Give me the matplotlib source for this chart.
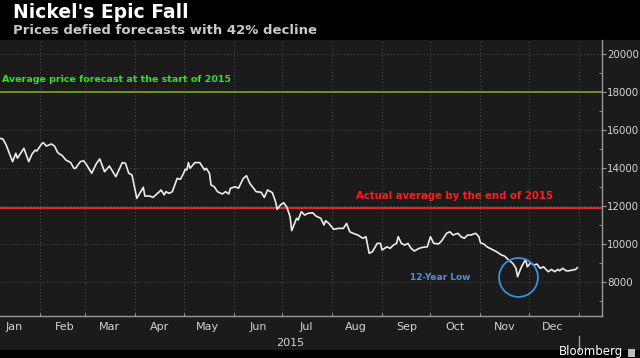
import numpy as np
import pandas as pd
import matplotlib
matplotlib.use('Agg')
import matplotlib.pyplot as plt
import matplotlib.dates as mdates
from matplotlib.patches import Rectangle
from matplotlib.lines import Line2D

# LME nickel price (day offset from 1 Jan 2015, USD/t)
day = [6, 8, 10, 14, 16, 17, 21, 24, 26, 28, 29, 32, 33, 35, 38, 40, 42, 45, 47, 50,
       52, 53, 56, 58, 60, 63, 66, 68, 71, 74, 78, 82, 84, 86, 88, 91, 95, 96, 99, 101,
       105, 106, 108, 109, 111, 113, 116, 118, 120, 121, 122, 123, 124, 127, 130, 133, 134, 136, 137, 139,
       141, 144, 146, 148, 149, 152, 154, 157, 159, 161, 165, 168, 170, 172, 175, 177, 178, 180, 182, 184,
       186, 187, 190, 191, 193, 195, 197, 200, 202, 205, 207, 208, 210, 213, 216, 219, 221, 223, 225, 228,
       231, 233, 235, 237, 240, 242, 243, 246, 248, 250, 252, 253, 255, 257, 259, 261, 263, 266, 268, 271,
       273, 275, 278, 280, 283, 285, 287, 290, 292, 294, 296, 298, 301, 303, 304, 306, 308, 311, 314, 317,
       319, 321, 324, 326, 327, 329, 330, 332, 333, 335, 337, 339, 341, 343, 345, 346, 348, 350, 352, 353,
       355, 357, 359, 361, 363, 364]
price = [15580, 15540, 15230, 14350, 14790, 14530, 15050, 14350, 14740, 14960, 14910, 15280, 15350, 15170, 15280, 15170, 14820, 14650, 14440, 14300,
         14000, 14000, 14350, 14400, 14170, 13740, 14260, 14490, 13820, 14120, 13560, 14300, 14260, 13740, 13650, 12420, 13000, 12540, 12540, 12470,
         12770, 12860, 12600, 12770, 12680, 12770, 13470, 13420, 13740, 13950, 13910, 14300, 14000, 14300, 14300, 13910, 14000, 13740, 13120, 13030,
         12770, 12650, 12770, 12650, 12950, 13030, 12950, 13470, 13610, 13210, 12770, 12740, 12470, 12860, 12720, 12240, 11840, 12070, 12190, 11950,
         11450, 10720, 11370, 11280, 11720, 11540, 11630, 11660, 11490, 11370, 11020, 11240, 11100, 10790, 10840, 10840, 11100, 10660, 10580, 10490,
         10320, 10400, 9530, 9610, 10050, 10050, 9700, 9870, 9790, 9960, 10050, 10400, 10050, 9960, 10050, 9790, 9650, 9790, 9840, 9870,
         10400, 10050, 10020, 10190, 10580, 10660, 10490, 10580, 10400, 10320, 10490, 10490, 10580, 10400, 10080, 10020, 9870, 9740, 9610, 9440,
         9380, 9210, 9000, 8740, 8300, 8740, 8910, 9210, 8820, 9030, 8910, 8960, 8740, 8820, 8650, 8560, 8680, 8560, 8680, 8610,
         8740, 8610, 8610, 8650, 8680, 8770]

forecast_avg = 18000
actual_avg = 11900
low_day = 327
low_price = 8300

months = ['Jan', 'Feb', 'Mar', 'Apr', 'May', 'Jun', 'Jul', 'Aug', 'Sep', 'Oct', 'Nov', 'Dec']

start = pd.Timestamp('2015-01-01')
dates = start + pd.to_timedelta(day, unit='D')

W, H = 640, 358
fig = plt.figure(figsize=(W / 100, H / 100), dpi=100)
fig.patch.set_facecolor('#1b1b1b')

# black header / footer bands
fig.patches.append(Rectangle((0, 1 - 40 / H), 1, 40 / H, transform=fig.transFigure,
                             facecolor='black', edgecolor='none', zorder=-1))
fig.patches.append(Rectangle((0, 0), 1, 8 / H, transform=fig.transFigure,
                             facecolor='black', edgecolor='none', zorder=-1))

ax = fig.add_axes([0, 1 - 316 / H, 601.5 / W, (316 - 40) / H])
ax.set_facecolor('#1b1b1b')

ax.plot(dates, price, color='#ececec', lw=1.2, zorder=3)

ax.axhline(forecast_avg, color='#7ea52a', lw=1.2, zorder=2)
ax.axhline(actual_avg, color='#e8202c', lw=1.5, zorder=2)

ax.text(0.003, forecast_avg + 450, 'Average price forecast at the start of 2015',
        transform=ax.get_yaxis_transform(), color='#2fe02f', fontsize=6.8,
        fontweight='bold', ha='left', va='bottom')
ax.text(455 / 601.5, actual_avg + 400, 'Actual average by the end of 2015',
        transform=ax.get_yaxis_transform(), color='#ff1c1c', fontsize=7.3,
        fontweight='bold', ha='center', va='bottom')

low_date = start + pd.Timedelta(days=low_day)
ax.plot([low_date], [low_price], marker='o', markersize=28, markerfacecolor='none',
        markeredgecolor='#3a8fe0', markeredgewidth=1.3, zorder=4)
ax.text(440 / 601.5, low_price - 40, '12-Year Low', transform=ax.get_yaxis_transform(),
        color='#4a90e2', fontsize=6.5, fontweight='bold', ha='center', va='center')

ax.set_xlim(start + pd.Timedelta(days=6.2), start + pd.Timedelta(days=379))
ax.set_ylim(6230, 20750)

# axes / ticks
for s in ['top', 'left']:
    ax.spines[s].set_visible(False)
for s in ['right', 'bottom']:
    ax.spines[s].set_color('#9a9a9a')
    ax.spines[s].set_linewidth(1)

ax.yaxis.tick_right()
ax.set_yticks(np.arange(8000, 20001, 2000))
ax.set_yticks(np.arange(7000, 20001, 1000), minor=True)
ax.tick_params(axis='y', which='major', direction='out', length=3, color='#9a9a9a',
               labelcolor='#d4d4d4', labelsize=7.4, pad=1)
ax.tick_params(axis='y', which='minor', direction='in', length=2, color='#9a9a9a')

ax.xaxis.set_major_locator(mdates.MonthLocator())
ax.xaxis.set_major_formatter(plt.NullFormatter())
minor_ticks = [start + pd.DateOffset(months=i, days=15) for i in range(12)]
ax.set_xticks(minor_ticks, minor=True)
ax.set_xticklabels(months, minor=True)
ax.tick_params(axis='x', which='major', direction='in', length=2, color='#9a9a9a')
ax.tick_params(axis='x', which='minor', length=0, labelcolor='#d4d4d4', labelsize=8, pad=4)

ax.grid(True, which='major', color='#4a4a4a', lw=0.8, linestyle=(0, (1, 2)))

fig.text(290 / W, 1 - 343 / H, '2015', color='#d4d4d4', fontsize=8, ha='center', va='center')
fig.add_artist(Line2D([579 / W, 579 / W], [1 - 336 / H, 1 - 351 / H], color='#9a9a9a', lw=1))

# titles
fig.text(13 / W, 1 - 12 / H, "Nickel's Epic Fall", color='white', fontsize=13.5,
         fontweight='bold', ha='left', va='center')
fig.text(13 / W, 1 - 30 / H, 'Prices defied forecasts with 42% decline', color='#c8c8c8',
         fontsize=9.5, fontweight='bold', ha='left', va='center')

fig.text(623 / W, 1 - 352 / H, 'Bloomberg', color='white', fontsize=8.5,
         ha='right', va='center')
fig.patches.append(Rectangle((628 / W, 1 - 357 / H), 7 / W, 8 / H, transform=fig.transFigure,
                             facecolor='#bbbbbb', edgecolor='none'))

fig.savefig('out.png', dpi=100, facecolor=fig.get_facecolor())
